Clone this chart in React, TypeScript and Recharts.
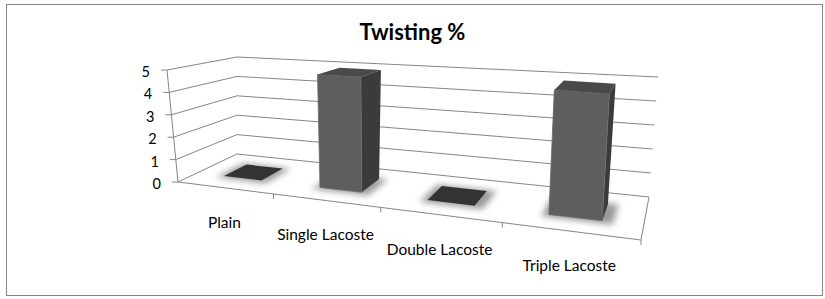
import { BarChart, Bar, XAxis, YAxis, CartesianGrid } from "recharts";

const categories = ["Plain", "Single Lacoste", "Double Lacoste", "Triple Lacoste"];
const twistingValues = [0, 4.9, 0, 4.9];
const yTicks = [0, 1, 2, 3, 4, 5];
const chartTitle = "Twisting %";

const data = categories.map((name, i) => ({ name, twisting: twistingValues[i] }));

const W = 825;
const H = 299;
const M = { top: 50, right: 100, bottom: 30, left: 80 };
const AXIS_W = 20;
const AXIS_H = 20;
const PL = M.left + AXIS_W;
const PT = M.top;
const PW = W - PL - M.right;
const PH = H - M.top - M.bottom - AXIS_H;
const PB = PT + PH;

const FONT = "Lato, 'Open Sans', sans-serif";
const GRID = "#868686";

// floor corners on screen: front-left, front-right, back-right, back-left
type Pt = [number, number];
const FLOOR: Pt[] = [[178, 182], [641, 240], [649, 197], [237, 154]];
// screen offset from each floor corner up to the top of the axis
const RISE: Pt[] = [[-11, -112], [8, -136], [9, -120], [0, -97]];

function quadMap(q: Pt[]) {
  const [[x0, y0], [x1, y1], [x2, y2], [x3, y3]] = q;
  const dx1 = x1 - x2, dx2 = x3 - x2, dx3 = x0 - x1 + x2 - x3;
  const dy1 = y1 - y2, dy2 = y3 - y2, dy3 = y0 - y1 + y2 - y3;
  const den = dx1 * dy2 - dx2 * dy1;
  const g = (dx3 * dy2 - dx2 * dy3) / den;
  const h = (dx1 * dy3 - dx3 * dy1) / den;
  const a = x1 - x0 + g * x1, b = x3 - x0 + h * x3;
  const d = y1 - y0 + g * y1, e = y3 - y0 + h * y3;
  return (u: number, v: number): Pt => {
    const w = g * u + h * v + 1;
    return [(a * u + b * v + x0) / w, (d * u + e * v + y0) / w];
  };
}

const floorAt = quadMap(FLOOR);

function riseAt(u: number, d: number): Pt {
  const [fl, fr, br, bl] = RISE;
  const front: Pt = [fl[0] + (fr[0] - fl[0]) * u, fl[1] + (fr[1] - fl[1]) * u];
  const back: Pt = [bl[0] + (br[0] - bl[0]) * u, bl[1] + (br[1] - bl[1]) * u];
  return [front[0] + (back[0] - front[0]) * d, front[1] + (back[1] - front[1]) * d];
}

// u: along categories, f: share of axis height, d: depth (0 front, 1 back)
function project(u: number, f: number, d: number): Pt {
  const p = floorAt(u, d);
  const r = riseAt(u, d);
  return [p[0] + r[0] * f, p[1] + r[1] * f];
}

const poly = (pts: Pt[]) => pts.map((p) => `${p[0].toFixed(1)},${p[1].toFixed(1)}`).join(" ");
const line = (a: Pt, b: Pt, key: string) => (
  <line key={key} x1={a[0]} y1={a[1]} x2={b[0]} y2={b[1]} stroke={GRID} strokeWidth={1} />
);

const D0 = 0.3;
const D1 = 0.7;

function Box3D(props: any) {
  const { x, width, height } = props;
  const u0 = (x - PL) / PW;
  const u1 = (x + width - PL) / PW;
  const f = Math.max(0, height) / PH;
  const shadow = poly([
    project(u0 - 0.012, 0, D0 - 0.06),
    project(u1 + 0.02, 0, D0 - 0.06),
    project(u1 + 0.02, 0, D1 + 0.02),
    project(u0 - 0.012, 0, D1 + 0.02),
  ]);
  if (f < 1e-6) {
    return (
      <g>
        <polygon points={shadow} fill="#9a9a9a" filter="url(#soft)" />
        <polygon
          points={poly([project(u0, 0, D0), project(u1, 0, D0), project(u1, 0, D1), project(u0, 0, D1)])}
          fill="#333333"
        />
      </g>
    );
  }
  const front = [project(u0, 0, D0), project(u1, 0, D0), project(u1, f, D0), project(u0, f, D0)];
  const side = [project(u1, 0, D0), project(u1, 0, D1), project(u1, f, D1), project(u1, f, D0)];
  const top = [project(u0, f, D0), project(u1, f, D0), project(u1, f, D1), project(u0, f, D1)];
  return (
    <g>
      <polygon points={shadow} fill="#9a9a9a" filter="url(#soft)" />
      <polygon points={poly(side)} fill="#3b3b3b" />
      <polygon points={poly(front)} fill="#5e5e5e" stroke="#6a6a6a" strokeWidth={0.8} />
      <polygon points={poly(top)} fill="#4a4a4a" />
    </g>
  );
}

function WallLine(props: any) {
  const f = (PB - props.y1) / PH;
  const items = [
    line(project(0, f, 0), project(0, f, 1), "s"),
    line(project(0, f, 1), project(1, f, 1), "b"),
  ];
  if (Math.abs(f) < 1e-6) {
    items.push(line(project(0, 0, 0), project(1, 0, 0), "front"));
    items.push(line(project(1, 0, 0), project(1, 0, 1), "right"));
    items.push(line(project(0, 0, 0), project(0, 1, 0), "axis"));
    categories.forEach((_, i) => {
      const p = project((i + 1) / categories.length, 0, 0);
      items.push(line(p, [p[0], p[1] + 5], `t${i}`));
    });
  }
  return (
    <g key={`wall-${props.index}`}>
      {Math.abs(f) < 1e-6 && (
        <defs>
          <filter id="soft" x="-50%" y="-50%" width="200%" height="200%">
            <feGaussianBlur stdDeviation={3} />
          </filter>
        </defs>
      )}
      {items}
    </g>
  );
}

function ValueTick(props: any) {
  const { y, payload } = props;
  const f = (PB - y) / PH;
  const [px, py] = project(0, f, 0);
  return (
    <g>
      <line x1={px - 6} y1={py} x2={px} y2={py} stroke={GRID} />
      <text x={px - 17} y={py + 1.5} textAnchor="end" dominantBaseline="central" fontFamily={FONT} fontSize={14.5} fill="#000">
        {payload.value}
      </text>
    </g>
  );
}

function CategoryTick(props: any) {
  const { x, payload } = props;
  const [px, py] = project((x - PL) / PW, 0, 0);
  return (
    <text x={px} y={py + 34} textAnchor="middle" dominantBaseline="central" fontFamily={FONT} fontSize={15.5} fill="#000">
      {payload.value}
    </text>
  );
}

export default function App() {
  return (
    <div style={{ position: "absolute", left: 0, top: 0, width: W, height: H, background: "#fff" }}>
      <div
        style={{
          position: "absolute",
          left: 6,
          top: 4,
          width: 815,
          height: 290,
          border: `1px solid ${GRID}`,
        }}
      />
      <div
        style={{
          position: "absolute",
          left: 0,
          top: 18,
          width: W,
          textAlign: "center",
          fontFamily: FONT,
          fontWeight: 700,
          fontSize: 22,
          color: "#000",
        }}
      >
        {chartTitle}
      </div>
      <div style={{ position: "absolute", left: 0, top: 0 }}>
        <BarChart width={W} height={H} data={data} margin={M} barCategoryGap="30%">
          <CartesianGrid horizontal={WallLine} vertical={false} />
          <XAxis dataKey="name" height={AXIS_H} axisLine={false} tickLine={false} tick={CategoryTick} interval={0} />
          <YAxis
            width={AXIS_W}
            domain={[0, yTicks[yTicks.length - 1]]}
            ticks={yTicks}
            interval={0}
            axisLine={false}
            tickLine={false}
            tick={ValueTick}
          />
          <Bar dataKey="twisting" isAnimationActive={false} shape={(p: any) => <Box3D {...p} />} />
        </BarChart>
      </div>
    </div>
  );
}
